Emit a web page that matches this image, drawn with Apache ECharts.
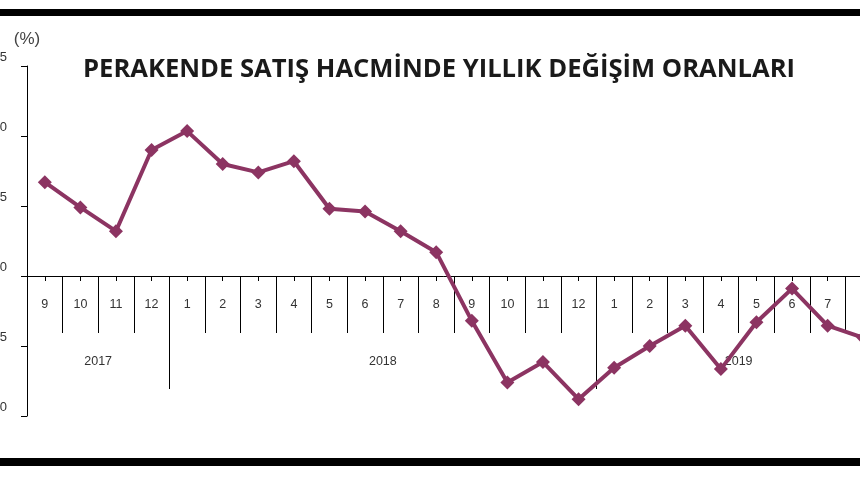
<!DOCTYPE html>
<html>
<head>
<meta charset="utf-8">
<script src="https://cdn.jsdelivr.net/npm/echarts@6/dist/echarts.min.js"></script>
<style>
html,body{margin:0;padding:0;background:#fff;}
#chart{width:860px;height:480px;}
</style>
</head>
<body>
<div id="chart"></div>
<script>
// Data
const months = ['9','10','11','12','1','2','3','4','5','6','7','8','9','10','11','12','1','2','3','4','5','6','7','8'];
const values = [6.7, 4.9, 3.2, 9.0, 10.35, 8.0, 7.4, 8.2, 4.8, 4.6, 3.2, 1.7, -3.2, -7.6, -6.15, -8.8, -6.55, -5.0, -3.55, -6.65, -3.3, -0.9, -3.55, -4.4];
const yearNames = ['2017', '2018', '2019'];
const yearMonthCounts = [4, 12, 8];
const yTicks = { min: -10, max: 15, interval: 5 };
const titleText = 'PERAKENDE SATIŞ HACMİNDE YILLIK DEĞİŞİM ORANLARI';
const unitText = '(%)';

// year label positions at the middle boundary of each year's months
const boundaryLabels = new Array(months.length + 1).fill('');
let start = 0;
yearNames.forEach((y, i) => {
  boundaryLabels[start + yearMonthCounts[i] / 2] = y;
  start += yearMonthCounts[i];
});

const W = 860, H = 480;
const grid = { left: 27, right: -21, top: 66, bottom: 64 };
const gridH = H - grid.top - grid.bottom;
// move the category axes from the grid bottom up to the zero line
const zeroOffset = -((0 - yTicks.min) / (yTicks.max - yTicks.min)) * gridH;

const chart = echarts.init(document.getElementById('chart'));
const baseFont = 'Liberation Sans, Arial, sans-serif';
const lineColor = '#8c3462';

function catAxis(extra) {
  return Object.assign({
    type: 'category', data: months, boundaryGap: true, position: 'bottom',
    offset: zeroOffset,
    axisLine: { show: false, onZero: false },
    axisLabel: { show: false },
    splitLine: { show: false }
  }, extra);
}

chart.setOption({
  animation: false,
  backgroundColor: '#fff',
  title: {
    text: titleText,
    left: 78,
    top: 52,
    textStyle: { fontFamily: 'Open Sans', fontWeight: 700, fontSize: 25.6, color: '#1a1a1a' }
  },
  graphic: [
    { type: 'rect', left: 0, top: 9, shape: { width: W, height: 7 }, style: { fill: '#000' } },
    { type: 'rect', left: 0, top: 458, shape: { width: W, height: 8 }, style: { fill: '#000' } }
  ],
  grid: Object.assign({ containLabel: false, outerBoundsMode: 'none' }, grid),
  xAxis: [
    catAxis({
      axisLine: { show: true, onZero: false, lineStyle: { color: '#000', width: 1 } },
      axisTick: { show: true, interval: 0, length: 57, lineStyle: { color: '#000', width: 1 } },
      axisLabel: { show: true, interval: 0, margin: 22, fontSize: 12.5, color: '#333', fontFamily: baseFont, hideOverlap: false }
    }),
    catAxis({
      axisTick: { show: true, alignWithLabel: true, interval: 0, length: 5, lineStyle: { color: '#000', width: 1 } }
    }),
    catAxis({
      axisTick: { show: true, interval: (i, v) => v === '1', length: 113, lineStyle: { color: '#000', width: 1 } }
    }),
    catAxis({
      data: boundaryLabels, boundaryGap: false,
      axisTick: { show: false },
      axisLabel: { show: true, interval: 0, margin: 79, fontSize: 12.5, color: '#333', fontFamily: baseFont }
    })
  ],
  yAxis: {
    type: 'value', min: yTicks.min, max: yTicks.max, interval: yTicks.interval,
    name: unitText, nameLocation: 'end', nameGap: 18,
    nameTextStyle: { fontSize: 17, color: '#444', fontFamily: baseFont, align: 'center' },
    axisLine: { show: true, onZero: false, lineStyle: { color: '#000', width: 1 } },
    axisTick: { show: true, length: 6, lineStyle: { color: '#000' } },
    axisLabel: { margin: 20, fontSize: 13, color: '#333', fontFamily: baseFont, verticalAlign: 'bottom', lineHeight: 18 },
    splitLine: { show: false }
  },
  series: [{
    type: 'line',
    data: values,
    xAxisIndex: 0,
    symbol: 'diamond',
    symbolSize: 14,
    lineStyle: { color: lineColor, width: 4 },
    itemStyle: { color: lineColor },
    clip: false
  }]
});
</script>
</body>
</html>
